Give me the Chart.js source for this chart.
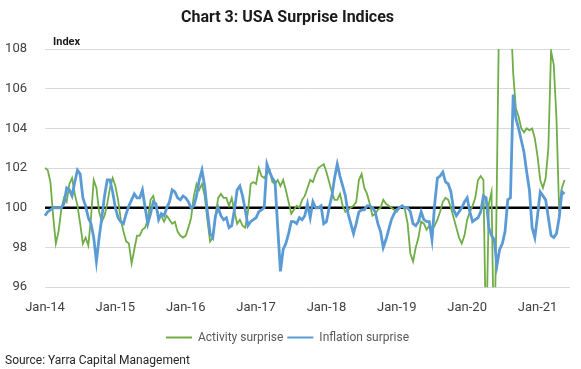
<!DOCTYPE html>
<html>
<head>
<meta charset="utf-8">
<script src="https://cdn.jsdelivr.net/npm/chart.js@4"></script>
<style>
  body { margin: 0; background: #fff; }
  #wrap { width: 581px; height: 369px; }
</style>
</head>
<body>
<div id="wrap"><canvas id="lineChart"></canvas></div>
<script>
// fortnightly readings, Jan 2014 .. early May 2021
var tickLabels = ['Jan-14', 'Jan-15', 'Jan-16', 'Jan-17', 'Jan-18', 'Jan-19', 'Jan-20', 'Jan-21'];
var pointsPerYear = 26;
var categoryCount = 195;

var activity = [
  102.0, 101.9, 101.3, 99.6, 98.2, 98.8, 99.9, 100.5, 100.3, 101.2,
  101.5, 100.7, 100.1, 99.2, 98.2, 98.5, 98.1, 99.5, 101.4, 101.0,
  99.8, 99.3, 99.6, 100.2, 101.0, 101.5, 101.1, 100.4, 99.4, 98.8,
  98.3, 98.2, 97.2, 97.9, 98.6, 98.6, 98.9, 99.0, 99.4, 100.4,
  100.6, 100.0, 99.6, 99.6, 99.3, 99.6, 99.4, 99.2, 99.3, 98.8,
  98.6, 98.5, 98.6, 99.0, 99.5, 100.6, 101.2, 100.9, 101.2, 100.6,
  99.4, 98.3, 98.5, 99.6, 100.5, 100.7, 100.5, 100.5, 100.1, 100.5,
  99.8, 99.2, 99.4, 99.1, 99.0, 99.8, 101.2, 101.3, 101.2, 102.0,
  101.6, 101.5, 101.7, 101.9, 101.3, 101.2, 101.4, 101.1, 101.4, 100.9,
  100.3, 99.7, 99.9, 100.1, 100.0, 100.4, 100.6, 101.0, 101.4, 101.3,
  101.7, 102.0, 102.1, 102.2, 101.8, 101.3, 100.8, 100.4, 100.4, 100.7,
  100.1, 99.8, 99.9, 100.0, 100.1, 100.3, 101.4, 101.7, 101.0, 100.7,
  100.2, 99.6, 99.7, 99.9, 100.0, 100.4, 100.2, 100.1, 100.0, 99.9,
  99.8, 100.0, 100.1, 99.9, 99.2, 97.7, 97.3, 98.0, 98.5, 99.3,
  99.2, 98.9, 99.1, 98.9, 99.1, 99.4, 99.8, 100.3, 100.5, 100.4,
  100.0, 99.5, 99.0, 98.5, 98.2, 98.6, 99.4, 99.8, 100.1, 100.5,
  101.4, 101.6, 101.4, 93.0, 100.2, 100.8, 92.0, 101.5, 112.0, 113.0,
  113.0, 112.0, 110.0, 106.8, 105.0, 104.6, 104.0, 103.8, 104.0, 103.9,
  104.0, 103.5, 102.6, 101.4, 101.0, 101.5, 103.0, 107.9, 107.2, 104.5,
  99.8, 101.0, 101.4
];

var inflation = [
  99.6, 99.8, 99.9, 100.0, 100.0, 100.0, 100.0, 100.2, 101.0, 100.9,
  100.6, 101.3, 101.9, 101.7, 100.5, 100.1, 99.5, 99.2, 98.5, 97.3,
  98.5, 99.5, 100.6, 101.4, 101.4, 100.8, 100.0, 99.5, 99.3, 99.2,
  99.7, 100.1, 100.4, 100.7, 100.5, 100.5, 100.9, 100.0, 99.2, 99.7,
  100.3, 100.2, 99.4, 99.7, 99.6, 100.0, 100.3, 100.9, 100.8, 100.5,
  100.4, 100.6, 100.5, 100.3, 100.0, 100.1, 100.6, 101.4, 101.9, 101.1,
  99.8, 98.7, 98.5, 99.6, 100.0, 99.6, 99.4, 99.5, 99.0, 99.1,
  99.9, 100.9, 101.1, 100.6, 99.9, 99.1, 99.3, 99.4, 99.5, 99.8,
  99.9, 100.0, 102.2, 101.8, 101.5, 101.3, 99.0, 96.8, 97.9, 98.2,
  98.7, 99.3, 99.3, 99.2, 99.5, 99.4, 99.6, 100.2, 99.5, 100.3,
  100.0, 100.0, 100.1, 99.2, 99.3, 100.0, 100.6, 101.5, 102.2, 101.6,
  101.1, 100.6, 99.7, 99.2, 98.7, 99.2, 99.8, 99.9, 99.9, 100.1,
  100.1, 100.0, 99.8, 99.2, 98.8, 98.0, 98.4, 98.9, 99.4, 99.7,
  99.9, 100.0, 100.1, 100.0, 100.0, 99.8, 99.2, 99.1, 99.3, 99.8,
  99.4, 99.3, 99.3, 98.4, 100.2, 101.5, 101.6, 101.8, 101.3, 101.2,
  100.8, 99.9, 99.6, 99.8, 100.0, 100.3, 100.5, 99.8, 99.3, 99.4,
  99.5, 99.8, 100.6, 100.5, 99.0, 98.6, 98.4, 97.1, 97.9, 98.2,
  98.8, 100.4, 100.5, 105.7, 104.5, 104.0, 103.4, 102.8, 101.8, 100.9,
  99.0, 98.5, 99.6, 100.8, 100.6, 100.4, 99.5, 98.6, 98.5, 98.7,
  99.5, 100.8, 100.7
];

var baselineValue = 100;

var categories = [];
for (var i = 0; i < categoryCount; i++) {
  categories.push(i % pointsPerYear === 0 ? (tickLabels[i / pointsPerYear] || '') : '');
}

var fontFamily = "'Roboto', sans-serif";

var baselinePlugin = {
  id: 'baseline',
  beforeDatasetsDraw: function(chart) {
    var ctx = chart.ctx, area = chart.chartArea;
    var y = chart.scales.y.getPixelForValue(baselineValue);
    ctx.save();
    ctx.strokeStyle = '#000';
    ctx.lineWidth = 2.5;
    ctx.beginPath();
    ctx.moveTo(area.left, y);
    ctx.lineTo(area.right, y);
    ctx.stroke();
    ctx.restore();
  }
};

var unitLabelPlugin = {
  id: 'unitLabel',
  afterDraw: function(chart) {
    var ctx = chart.ctx, area = chart.chartArea;
    ctx.save();
    ctx.font = 'bold 11px ' + fontFamily;
    ctx.fillStyle = '#1a1a1a';
    ctx.textBaseline = 'middle';
    ctx.fillText('Index', area.left + 8, area.top - 7);
    ctx.restore();
  }
};

var ctx = document.getElementById('lineChart').getContext('2d');
var myChart = new Chart(ctx, {
  type: 'line',
  data: {
    labels: categories,
    datasets: [{
      label: 'Activity surprise',
      data: activity,
      borderColor: 'rgb(112, 173, 71)',
      backgroundColor: 'rgb(112, 173, 71)',
      borderWidth: 1.8,
      pointRadius: 0,
      tension: 0,
      order: 1
    }, {
      label: 'Inflation surprise',
      data: inflation,
      borderColor: 'rgb(91, 155, 213)',
      backgroundColor: 'rgb(91, 155, 213)',
      borderWidth: 2.8,
      pointRadius: 0,
      tension: 0,
      order: 0
    }]
  },
  options: {
    responsive: true,
    maintainAspectRatio: false,
    animation: false,
    layout: { padding: { left: 5, right: 11, top: 0, bottom: 0 } },
    scales: {
      x: {
        grid: { display: false },
        border: { display: false },
        ticks: {
          autoSkip: false,
          maxRotation: 0,
          padding: 5,
          color: '#404040',
          font: { family: fontFamily, size: 13 }
        },
        afterFit: function(scale) { scale.height = 40.4; }
      },
      y: {
        min: 96,
        max: 108,
        grid: { color: '#d9d9d9', lineWidth: 1, drawTicks: false },
        border: { display: false },
        ticks: {
          stepSize: 2,
          padding: 18,
          color: '#404040',
          font: { family: fontFamily, size: 13 }
        },
        afterFit: function(scale) { scale.width = 40; }
      }
    },
    plugins: {
      title: {
        display: true,
        text: 'Chart 3: USA Surprise Indices',
        color: '#1a1a1a',
        font: { family: fontFamily, size: 16, weight: 'bold' },
        padding: { top: 8, bottom: 21.8 }
      },
      subtitle: {
        display: true,
        position: 'bottom',
        align: 'start',
        text: 'Source: Yarra Capital Management',
        color: '#262626',
        font: { family: fontFamily, size: 12 },
        padding: { top: 0, bottom: 1 }
      },
      legend: {
        position: 'bottom',
        labels: {
          boxWidth: 26,
          boxHeight: 2,
          padding: 4,
          color: '#595959',
          font: { family: fontFamily, size: 12 },
          sort: function(a, b) { return a.datasetIndex - b.datasetIndex; },
          generateLabels: function(chart) {
            var items = Chart.defaults.plugins.legend.labels.generateLabels(chart);
            items.forEach(function(item) { item.lineWidth = 0; });
            return items;
          }
        }
      },
      tooltip: { enabled: false }
    }
  },
  plugins: [baselinePlugin, unitLabelPlugin]
});
</script>
</body>
</html>
